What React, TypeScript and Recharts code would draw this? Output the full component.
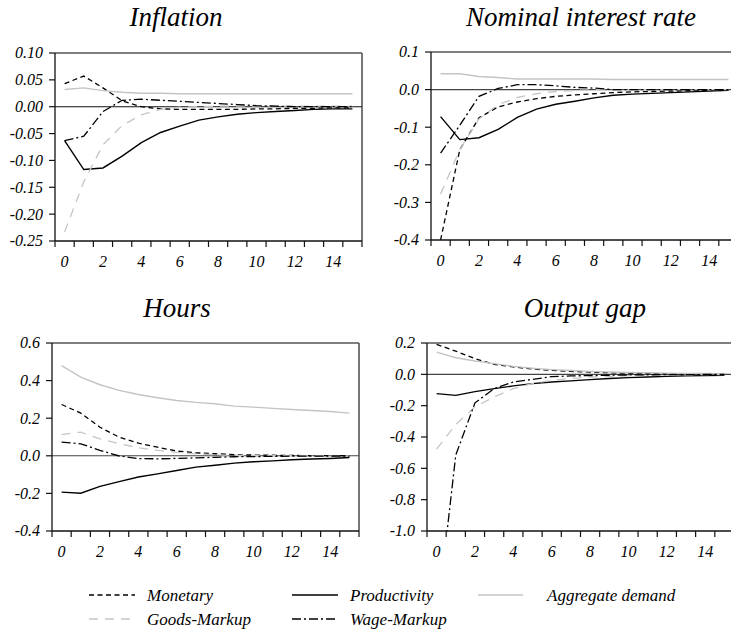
import React from 'react';
import { LineChart, Line, XAxis, YAxis, ReferenceLine } from 'recharts';

// Impulse responses over 16 quarters
const periods = [0, 1, 2, 3, 4, 5, 6, 7, 8, 9, 10, 11, 12, 13, 14, 15];

// Inflation
const inflationMonetary = [0.043, 0.057, 0.035, 0.011, 0.0, -0.004, -0.005, -0.005, -0.005, -0.005, -0.004, -0.004, -0.003, -0.003, -0.002, -0.002];
const inflationProductivity = [-0.063, -0.117, -0.114, -0.092, -0.067, -0.048, -0.036, -0.025, -0.019, -0.014, -0.011, -0.009, -0.007, -0.005, -0.004, -0.004];
const inflationAggDemand = [0.032, 0.035, 0.03, 0.027, 0.025, 0.025, 0.024, 0.024, 0.024, 0.024, 0.024, 0.024, 0.024, 0.024, 0.024, 0.024];
const inflationGoods = [-0.233, -0.14, -0.071, -0.035, -0.015, -0.005, -0.001, 0.0, 0.001, 0.001, 0.001, 0.001, 0.001, 0.001, 0.001, 0.001];
const inflationWage = [-0.063, -0.055, -0.009, 0.012, 0.014, 0.012, 0.01, 0.008, 0.006, 0.004, 0.002, 0.001, 0.0, 0.0, 0.0, 0.0];

// Nominal interest rate
const rateMonetary = [-0.4, -0.16, -0.075, -0.046, -0.033, -0.024, -0.018, -0.014, -0.011, -0.008, -0.006, -0.005, -0.004, -0.003, -0.002, -0.001];
const rateProductivity = [-0.072, -0.133, -0.128, -0.106, -0.074, -0.052, -0.039, -0.031, -0.022, -0.015, -0.012, -0.01, -0.008, -0.006, -0.004, -0.002];
const rateAggDemand = [0.042, 0.042, 0.035, 0.032, 0.028, 0.028, 0.028, 0.028, 0.028, 0.027, 0.027, 0.027, 0.027, 0.027, 0.027, 0.027];
const rateGoods = [-0.278, -0.16, -0.078, -0.04, -0.021, -0.011, -0.005, -0.002, 0.0, 0.0, 0.0, 0.0, 0.0, 0.0, 0.0, 0.0];
const rateWage = [-0.169, -0.095, -0.018, 0.003, 0.013, 0.013, 0.01, 0.006, 0.004, 0.0, 0.0, 0.0, 0.0, 0.0, 0.0, 0.0];

// Hours
const hoursMonetary = [0.273, 0.227, 0.152, 0.099, 0.067, 0.046, 0.025, 0.016, 0.011, 0.006, 0.004, 0.003, 0.002, 0.001, 0.001, 0.0];
const hoursProductivity = [-0.193, -0.199, -0.163, -0.137, -0.113, -0.096, -0.078, -0.06, -0.05, -0.039, -0.032, -0.027, -0.021, -0.017, -0.014, -0.009];
const hoursAggDemand = [0.48, 0.418, 0.378, 0.348, 0.326, 0.309, 0.294, 0.284, 0.277, 0.264, 0.259, 0.252, 0.246, 0.241, 0.236, 0.227];
const hoursGoods = [0.113, 0.126, 0.09, 0.064, 0.043, 0.029, 0.018, 0.01, 0.006, 0.003, 0.002, 0.001, 0.001, 0.001, 0.001, 0.001];
const hoursWage = [0.073, 0.064, 0.029, -0.001, -0.015, -0.016, -0.014, -0.011, -0.008, -0.005, -0.004, -0.003, -0.002, -0.002, -0.001, -0.001];

// Output gap
const gapMonetary = [0.191, 0.148, 0.1, 0.064, 0.047, 0.034, 0.025, 0.019, 0.014, 0.01, 0.007, 0.005, 0.004, 0.003, 0.002, 0.001];
const gapProductivity = [-0.123, -0.134, -0.11, -0.091, -0.074, -0.059, -0.049, -0.042, -0.034, -0.027, -0.021, -0.017, -0.013, -0.01, -0.008, -0.006];
const gapAggDemand = [0.142, 0.106, 0.085, 0.068, 0.051, 0.039, 0.03, 0.024, 0.019, 0.015, 0.012, 0.01, 0.008, 0.006, 0.005, 0.004];
const gapGoods = [-0.477, -0.32, -0.208, -0.144, -0.091, -0.059, -0.038, -0.026, -0.018, -0.013, -0.009, -0.006, -0.004, -0.003, -0.002, -0.001];
const gapWage = [-1.59, -0.515, -0.182, -0.091, -0.049, -0.032, -0.015, -0.01, -0.008, -0.006, -0.004, -0.003, -0.002, -0.002, -0.001, -0.001];

// Axis ticks
const inflationTicks = [0.1, 0.05, 0, -0.05, -0.1, -0.15, -0.2, -0.25];
const rateTicks = [0.1, 0, -0.1, -0.2, -0.3, -0.4];
const hoursTicks = [0.6, 0.4, 0.2, 0, -0.2, -0.4];
const gapTicks = [0.2, 0, -0.2, -0.4, -0.6, -0.8, -1.0];
const periodTicks = [-0.5, 0.5, 1.5, 2.5, 3.5, 4.5, 5.5, 6.5, 7.5, 8.5, 9.5, 10.5, 11.5, 12.5, 13.5, 14.5, 15.5];

const FONT = "'Liberation Serif', 'Times New Roman', serif";

const SERIES = [
  { key: 'monetary', name: 'Monetary', color: '#000', width: 1.3, dash: '5 3.5' },
  { key: 'productivity', name: 'Productivity', color: '#000', width: 1.4, dash: undefined },
  { key: 'aggDemand', name: 'Aggregate demand', color: '#c4c4c4', width: 1.4, dash: undefined },
  { key: 'goods', name: 'Goods-Markup', color: '#c6c6c6', width: 1.3, dash: '9 7' },
  { key: 'wage', name: 'Wage-Markup', color: '#000', width: 1.3, dash: '9 3 2 3' },
];

function buildRows(m: number[], p: number[], a: number[], g: number[], w: number[]) {
  return periods.map((t, i) => ({
    t,
    monetary: m[i],
    productivity: p[i],
    aggDemand: a[i],
    goods: g[i],
    wage: w[i],
  }));
}

const YW = 60;
const MT = 10;
const XH = 34;
const PLOT_W = 307;
const PLOT_H = 188;

type PanelProps = {
  title: string;
  titleX: number;
  titleY: number;
  left: number;
  top: number;
  rows: any[];
  domain: [number, number];
  ticks: number[];
  decimals: number;
  zeroColor: string;
};

function Panel({ title, titleX, titleY, left, top, rows, domain, ticks, decimals, zeroColor }: PanelProps) {
  const unit = PLOT_W / 16;
  // period labels sit midway between the half-step tick marks
  const renderXTick = (props: any) => {
    const v = props.payload.value;
    const lbl = Math.round(v + 0.5);
    if (lbl % 2 !== 0 || lbl > 14) return <g />;
    return (
      <text
        x={props.x + unit / 2}
        y={props.y}
        dy="0.71em"
        textAnchor="middle"
        fill="#000"
        style={{ fontFamily: FONT, fontStyle: 'italic', fontSize: 16 }}
      >
        {lbl}
      </text>
    );
  };
  const renderYTick = (props: any) => (
    <text
      x={props.x}
      y={props.y}
      dy="0.34em"
      textAnchor="end"
      fill="#000"
      style={{ fontFamily: FONT, fontStyle: 'italic', fontSize: 16 }}
    >
      {Number(props.payload.value).toFixed(decimals)}
    </text>
  );
  return (
    <>
      <div
        style={{
          position: 'absolute',
          left: titleX,
          top: titleY,
          transform: 'translateX(-50%)',
          fontFamily: FONT,
          fontStyle: 'italic',
          fontSize: 27,
          whiteSpace: 'nowrap',
          lineHeight: '30px',
          color: '#000',
        }}
      >
        {title}
      </div>
      <div style={{ position: 'absolute', left: left - YW, top: top - MT }}>
        <LineChart
          width={YW + PLOT_W + 10}
          height={MT + PLOT_H + XH}
          data={rows}
          margin={{ top: MT, right: 10, bottom: 0, left: 0 }}
        >
          <XAxis
            type="number"
            dataKey="t"
            domain={[-0.5, 15.5]}
            ticks={periodTicks}
            interval={0}
            tickSize={6}
            tickMargin={9}
            height={XH}
            axisLine={{ stroke: '#111', strokeWidth: 1.3 }}
            tickLine={{ stroke: '#111', strokeWidth: 1.2 }}
            tick={renderXTick}
          />
          <YAxis
            type="number"
            domain={domain}
            ticks={ticks}
            interval={0}
            allowDataOverflow
            width={YW}
            tickSize={6}
            tickMargin={6}
            axisLine={{ stroke: '#111', strokeWidth: 1.3 }}
            tickLine={{ stroke: '#111', strokeWidth: 1.2 }}
            tick={renderYTick}
          />
          <ReferenceLine y={domain[1]} stroke="#555" strokeWidth={1.6} />
          <ReferenceLine x={15.5} stroke="#555" strokeWidth={1.6} />
          <ReferenceLine y={0} stroke={zeroColor} strokeWidth={1.1} />
          {SERIES.map((s) => (
            <Line
              key={s.key}
              type="linear"
              dataKey={s.key}
              stroke={s.color}
              strokeWidth={s.width}
              strokeDasharray={s.dash}
              dot={false}
              activeDot={false}
              isAnimationActive={false}
            />
          ))}
        </LineChart>
      </div>
    </>
  );
}

const LEGEND_ITEMS = [
  { s: 0, x1: 89, x2: 135, tx: 147, y: 15 },
  { s: 1, x1: 292, x2: 338, tx: 350, y: 15 },
  { s: 2, x1: 478, x2: 523, tx: 547, y: 15 },
  { s: 3, x1: 89, x2: 135, tx: 147, y: 39 },
  { s: 4, x1: 292, x2: 338, tx: 350, y: 39 },
];

function Legend() {
  return (
    <svg width={731} height={49} style={{ position: 'absolute', left: 0, top: 580 }}>
      {LEGEND_ITEMS.map((it) => {
        const s = SERIES[it.s];
        return (
          <g key={s.key}>
            <line x1={it.x1} x2={it.x2} y1={it.y} y2={it.y} stroke={s.color} strokeWidth={s.width} strokeDasharray={s.dash} />
            <text
              x={it.tx}
              y={it.y}
              dy="0.33em"
              fill="#000"
              style={{ fontFamily: FONT, fontStyle: 'italic', fontSize: 17 }}
            >
              {s.name}
            </text>
          </g>
        );
      })}
    </svg>
  );
}

export default function App() {
  return (
    <div
      style={{
        position: 'absolute',
        left: 0,
        top: 0,
        width: 731,
        height: 629,
        overflow: 'hidden',
        background: '#fff',
        fontFamily: FONT,
        fontStyle: 'italic',
      }}
    >
      <Panel
        title="Inflation"
        titleX={176}
        titleY={2}
        left={55.3}
        top={52.7}
        rows={buildRows(inflationMonetary, inflationProductivity, inflationAggDemand, inflationGoods, inflationWage)}
        domain={[-0.25, 0.1]}
        ticks={inflationTicks}
        decimals={2}
        zeroColor="#111"
      />
      <Panel
        title="Nominal interest rate"
        titleX={581}
        titleY={2}
        left={430.7}
        top={51.7}
        rows={buildRows(rateMonetary, rateProductivity, rateAggDemand, rateGoods, rateWage)}
        domain={[-0.4, 0.1]}
        ticks={rateTicks}
        decimals={1}
        zeroColor="#444"
      />
      <Panel
        title="Hours"
        titleX={177}
        titleY={293}
        left={51.7}
        top={342.7}
        rows={buildRows(hoursMonetary, hoursProductivity, hoursAggDemand, hoursGoods, hoursWage)}
        domain={[-0.4, 0.6]}
        ticks={hoursTicks}
        decimals={1}
        zeroColor="#444"
      />
      <Panel
        title="Output gap"
        titleX={585}
        titleY={293}
        left={426.7}
        top={342.7}
        rows={buildRows(gapMonetary, gapProductivity, gapAggDemand, gapGoods, gapWage)}
        domain={[-1.0, 0.2]}
        ticks={gapTicks}
        decimals={1}
        zeroColor="#444"
      />
      <Legend />
    </div>
  );
}
